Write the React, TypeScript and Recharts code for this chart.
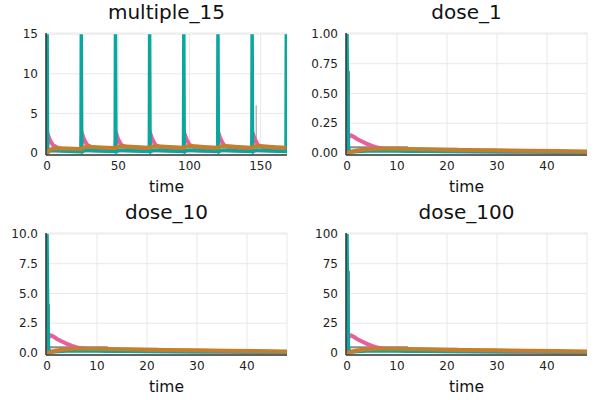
import React from "react";
import { CartesianGrid, Line, LineChart, XAxis, YAxis } from "recharts";

// multiple_15: seven doses every 24 h plus one at 168
const m15Time = [
  0, 0.3, 0.8, 2, 4, 8, 14, 23.8,
  24, 24.3, 24.8, 26, 28, 32, 38, 47.8,
  48, 48.3, 48.8, 50, 52, 56, 62, 71.8,
  72, 72.3, 72.8, 74, 76, 80, 86, 95.8,
  96, 96.3, 96.8, 98, 100, 104, 110, 119.8,
  120, 120.3, 120.8, 122, 124, 128, 134, 143.8,
  144, 144.3, 144.8, 146, 148, 152, 158, 167.8,
  168,
];
const m15Teal = [
  15, 0.5, 0.15, 0.3, 0.35, 0.3, 0.22, 0.18,
  15, 0.55, 0.18, 0.32, 0.38, 0.33, 0.25, 0.2,
  15, 0.55, 0.18, 0.33, 0.38, 0.33, 0.25, 0.2,
  15, 0.55, 0.18, 0.33, 0.38, 0.33, 0.25, 0.2,
  15, 0.55, 0.18, 0.33, 0.38, 0.33, 0.25, 0.2,
  15, 0.55, 0.18, 0.33, 0.38, 0.33, 0.25, 0.2,
  15, 0.55, 0.18, 0.33, 0.38, 0.33, 0.25, 0.2,
  15,
];
const m15Pink = [
  0, 1.7, 2.2, 1.6, 1.0, 0.6, 0.42, 0.32,
  0.32, 1.8, 2.3, 1.7, 1.05, 0.65, 0.45, 0.34,
  0.34, 1.8, 2.3, 1.7, 1.05, 0.65, 0.45, 0.34,
  0.34, 1.8, 2.3, 1.7, 1.05, 0.65, 0.45, 0.34,
  0.34, 1.8, 2.3, 1.7, 1.05, 0.65, 0.45, 0.34,
  0.34, 1.8, 2.3, 1.7, 1.05, 0.65, 0.45, 0.34,
  0.34, 1.8, 2.3, 1.7, 1.05, 0.65, 0.45, 0.34,
  0.34,
];
const m15Brown = [
  0, 0.05, 0.2, 0.42, 0.55, 0.6, 0.57, 0.52,
  0.52, 0.55, 0.62, 0.72, 0.78, 0.76, 0.7, 0.62,
  0.62, 0.64, 0.7, 0.8, 0.85, 0.82, 0.75, 0.66,
  0.66, 0.68, 0.72, 0.82, 0.86, 0.83, 0.76, 0.67,
  0.67, 0.69, 0.73, 0.83, 0.87, 0.84, 0.77, 0.68,
  0.68, 0.69, 0.73, 0.83, 0.87, 0.84, 0.77, 0.68,
  0.68, 0.69, 0.73, 0.83, 0.87, 0.84, 0.77, 0.68,
  0.68,
];
const m15GreyTime = [0, 146.8, 146.9, 147.1, 168];
const m15Grey = [0.1, 0.1, 6, 0.1, 0.1];

// single doses
const doseTime = [0, 0.15, 0.3, 0.6, 1, 1.5, 2, 3, 4, 5, 6, 8, 10, 12, 16, 20, 24, 30, 36, 42, 48];
const doseGreyTime = [0, 0.15, 0.4, 12, 22, 40, 48];

const d1Teal = [1.0, 0.3, 0.04, 0.008, 0.008, 0.01, 0.012, 0.014, 0.016, 0.017, 0.017, 0.017, 0.016, 0.015, 0.014, 0.013, 0.012, 0.011, 0.01, 0.009, 0.008];
const d1Pink = [0, 0.09, 0.13, 0.15, 0.145, 0.132, 0.118, 0.097, 0.077, 0.06, 0.047, 0.034, 0.027, 0.022, 0.018, 0.016, 0.014, 0.012, 0.01, 0.009, 0.008];
const d1Brown = [0, 0.001, 0.003, 0.007, 0.012, 0.017, 0.021, 0.027, 0.031, 0.034, 0.035, 0.036, 0.035, 0.034, 0.031, 0.028, 0.026, 0.022, 0.019, 0.016, 0.013];
const d1Grey = [0, 0.68, 0.048, 0.036, 0.026, 0.016, 0.016];

const d10Teal = [10, 3, 0.4, 0.08, 0.08, 0.1, 0.12, 0.14, 0.16, 0.17, 0.17, 0.17, 0.16, 0.15, 0.14, 0.13, 0.12, 0.11, 0.1, 0.09, 0.08];
const d10Pink = [0, 0.9, 1.3, 1.5, 1.45, 1.32, 1.18, 0.97, 0.77, 0.6, 0.47, 0.34, 0.27, 0.22, 0.18, 0.16, 0.14, 0.12, 0.1, 0.09, 0.08];
const d10Brown = [0, 0.01, 0.03, 0.07, 0.12, 0.17, 0.21, 0.27, 0.31, 0.34, 0.35, 0.36, 0.35, 0.34, 0.31, 0.28, 0.26, 0.22, 0.19, 0.16, 0.13];
const d10Grey = [0, 4.0, 0.48, 0.36, 0.26, 0.16, 0.16];

const d100Teal = [100, 30, 4, 0.8, 0.8, 1, 1.2, 1.4, 1.6, 1.7, 1.7, 1.7, 1.6, 1.5, 1.4, 1.3, 1.2, 1.1, 1, 0.9, 0.8];
const d100Pink = [0, 9, 13, 15, 14.5, 13.2, 11.8, 9.7, 7.7, 6, 4.7, 3.4, 2.7, 2.2, 1.8, 1.6, 1.4, 1.2, 1, 0.9, 0.8];
const d100Brown = [0, 0.1, 0.3, 0.7, 1.2, 1.7, 2.1, 2.7, 3.1, 3.4, 3.5, 3.6, 3.5, 3.4, 3.1, 2.8, 2.6, 2.2, 1.9, 1.6, 1.3];
const d100Grey = [0, 68, 4.8, 3.6, 2.6, 1.6, 1.6];

const m15XTicks = [0, 50, 100, 150];
const doseXTicks = [0, 10, 20, 30, 40];
const m15YTicks = [0, 5, 10, 15];
const d1YTicks = [0, 0.25, 0.5, 0.75, 1];
const d10YTicks = [0, 2.5, 5, 7.5, 10];
const d100YTicks = [0, 25, 50, 75, 100];

const TEAL = "#0ba69d";
const PINK = "#e8609b";
const BROWN = "#c47f2c";
const GREY = "#8a8a8a";
const FONT = "'DejaVu Sans', sans-serif";

type Row = { t: number; v: number };
const zip = (ts: number[], vs: number[]): Row[] => ts.map((t, i) => ({ t, v: vs[i] }));

interface Series {
  rows: Row[];
  color: string;
  width: number;
  step?: boolean;
}

interface PanelProps {
  title: string;
  left: number;
  top: number;
  xDomain: [number, number];
  xTicks: number[];
  yDomain: [number, number];
  yTicks: number[];
  yDigits: number;
  series: Series[];
}

function Panel({ title, left, top, xDomain, xTicks, yDomain, yTicks, yDigits, series }: PanelProps) {
  const tick = { fill: "#222", fontSize: 12, fontFamily: FONT };
  return (
    <div style={{ position: "absolute", left, top, width: 300, height: 200 }}>
      <LineChart width={300} height={200} margin={{ top: 33, right: 13, bottom: 0, left: 0 }}>
        <CartesianGrid stroke="#e8e8e8" />
        <XAxis
          dataKey="t"
          type="number"
          domain={xDomain}
          ticks={xTicks}
          allowDataOverflow
          height={45}
          tickSize={0}
          tickMargin={6}
          tickLine={false}
          axisLine={{ stroke: "#333", strokeWidth: 1.5 }}
          tick={tick}
        />
        <YAxis
          type="number"
          domain={yDomain}
          ticks={yTicks}
          allowDataOverflow
          width={46}
          tickSize={0}
          tickMargin={8}
          tickLine={false}
          axisLine={{ stroke: "#333", strokeWidth: 1.5 }}
          tick={tick}
          tickFormatter={(v: number) => v.toFixed(yDigits)}
        />
        {series.map((s, i) => (
          <Line
            key={i}
            data={s.rows}
            dataKey="v"
            type={s.step ? "stepAfter" : "linear"}
            stroke={s.color}
            strokeWidth={s.width}
            dot={false}
            activeDot={false}
            isAnimationActive={false}
          />
        ))}
      </LineChart>
      <svg
        width={300}
        height={200}
        style={{ position: "absolute", left: 0, top: 0, pointerEvents: "none" }}
      >
        <text x={166.5} y={18.5} textAnchor="middle" fontSize={20} fontFamily={FONT} fill="#111">
          {title}
        </text>
        <text x={166.5} y={191.5} textAnchor="middle" fontSize={15.5} fontFamily={FONT} fill="#111">
          time
        </text>
      </svg>
    </div>
  );
}

function doseSeries(teal: number[], pink: number[], brown: number[], grey: number[]): Series[] {
  return [
    { rows: zip(doseGreyTime, grey), color: GREY, width: 2, step: true },
    { rows: zip(doseTime, pink), color: PINK, width: 4 },
    { rows: zip(doseTime, teal), color: TEAL, width: 3.5 },
    { rows: zip(doseTime, brown), color: BROWN, width: 4 },
  ];
}

export default function App() {
  const m15: Series[] = [
    { rows: zip(m15GreyTime, m15Grey), color: "#b4b4b4", width: 1 },
    { rows: zip(m15Time, m15Pink), color: PINK, width: 4 },
    { rows: zip(m15Time, m15Teal), color: TEAL, width: 3.5 },
    { rows: zip(m15Time, m15Brown), color: BROWN, width: 4 },
  ];
  return (
    <div style={{ position: "absolute", left: 0, top: 0, width: 600, height: 400, background: "#fff" }}>
      <Panel
        title="multiple_15"
        left={0}
        top={0}
        xDomain={[-0.8, 168.5]}
        xTicks={m15XTicks}
        yDomain={[-0.25, 15.15]}
        yTicks={m15YTicks}
        yDigits={0}
        series={m15}
      />
      <Panel
        title="dose_1"
        left={300}
        top={0}
        xDomain={[-0.2, 48]}
        xTicks={doseXTicks}
        yDomain={[-0.017, 1.008]}
        yTicks={d1YTicks}
        yDigits={2}
        series={doseSeries(d1Teal, d1Pink, d1Brown, d1Grey)}
      />
      <Panel
        title="dose_10"
        left={0}
        top={200}
        xDomain={[-0.2, 48]}
        xTicks={doseXTicks}
        yDomain={[-0.17, 10.08]}
        yTicks={d10YTicks}
        yDigits={1}
        series={doseSeries(d10Teal, d10Pink, d10Brown, d10Grey)}
      />
      <Panel
        title="dose_100"
        left={300}
        top={200}
        xDomain={[-0.2, 48]}
        xTicks={doseXTicks}
        yDomain={[-1.7, 100.8]}
        yTicks={d100YTicks}
        yDigits={0}
        series={doseSeries(d100Teal, d100Pink, d100Brown, d100Grey)}
      />
    </div>
  );
}
